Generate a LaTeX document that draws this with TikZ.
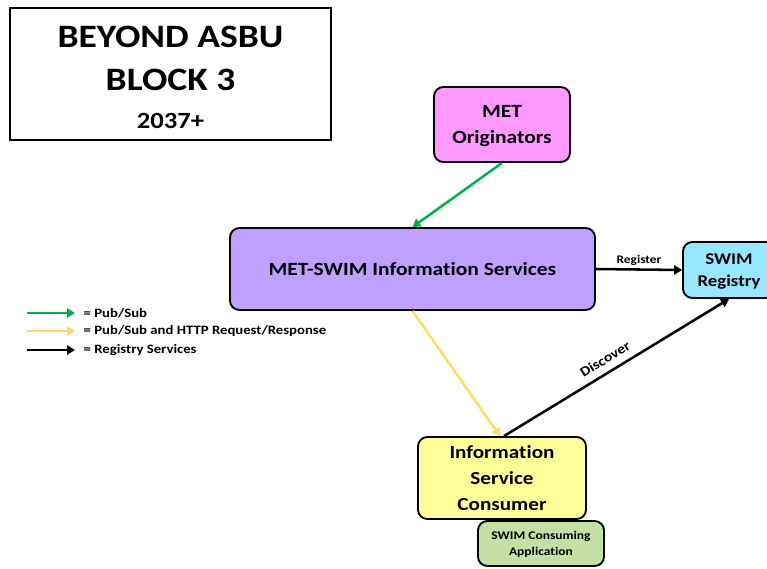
\documentclass[tikz,border=0pt]{standalone}
\usepackage{fontspec}
\setmainfont{Carlito}[Ligatures=CommonOff, FakeStretch=1.15]
\usepackage{xcolor}
\usetikzlibrary{positioning,arrows.meta}
\definecolor{origpink}{HTML}{FF99FF}
\definecolor{svcpurple}{HTML}{BF9FFF}
\definecolor{regblue}{HTML}{99E6FF}
\definecolor{consyellow}{HTML}{FFFF99}
\definecolor{appgreen}{HTML}{C5E0A4}
\definecolor{pubgreen}{HTML}{00B050}
\definecolor{httpyellow}{HTML}{FFD966}

\begin{document}
\begin{tikzpicture}[x=0.75pt, y=-0.75pt,
  font=\bfseries,
  box/.style={draw, line width=1.4pt, rounded corners=7pt, align=center, inner sep=1pt, text depth=0pt},
  flow/.style={line width=1.9pt, -{Triangle[length=6pt,width=7pt]}},
  big/.style={font=\bfseries\fontsize{14}{19}\selectfont},
  small/.style={font=\bfseries\fontsize{8.7}{10}\selectfont},
  key/.style={anchor=west, font=\bfseries\fontsize{9.6}{11}\selectfont}]
\useasboundingbox (0,0) rectangle (767,568);
% title block
\node[draw, line width=1.4pt, minimum width=240.75pt, minimum height=99pt] (title) at (170.5,74) {};
\node[anchor=base, font=\bfseries\fontsize{24.5}{28}\selectfont] (t1) at (170.5,47) {BEYOND ASBU};
\node[anchor=base, font=\bfseries\fontsize{24.5}{28}\selectfont] (t2) at (170.5,90) {BLOCK 3};
\node[anchor=base, font=\bfseries\fontsize{17.4}{20}\selectfont] (t3) at (170.5,128) {2037+};
% services
\node[box, big, fill=origpink, minimum width=102pt, minimum height=56.25pt] (orig) at (502,124.5) {MET\\Originators};
\node[box, big, fill=svcpurple, minimum width=273.75pt, minimum height=61.5pt] (mss) at (412.5,269) {MET-SWIM Information Services};
\node[box, fill=regblue, minimum width=69pt, minimum height=42pt, font=\bfseries\fontsize{12.3}{17}\selectfont] (reg) at (729,270) {SWIM\\Registry};
\node[box, fill=consyellow, minimum width=126pt, minimum height=61.5pt, font=\bfseries\fontsize{13.8}{19.5}\selectfont] (cons) at (502,478) {Information\\Service\\Consumer};
\node[box, fill=appgreen, minimum width=94.5pt, minimum height=33.75pt, font=\bfseries\fontsize{8.8}{12}\selectfont] (app) at (541,543.5) {SWIM Consuming\\Application};
% connectors
\draw[flow, pubgreen] (orig.south) -- (mss.north);
\draw[flow, httpyellow] (mss.south) -- ([xshift=-1.5pt]cons.north);
\draw[flow] (mss.east) -- (reg.west) node[midway, above=-1.5pt, small] (regl) {Register};
\draw[flow] ([xshift=1.5pt]cons.north) -- (reg.south) node[pos=0.48, above=2pt, sloped, font=\bfseries\fontsize{10.3}{11}\selectfont] (disl) {Discover};
% legend
\coordinate (l1a) at (27,313); \coordinate (l1b) at (75,313);
\coordinate (l2a) at (27,331); \coordinate (l2b) at (75,331);
\coordinate (l3a) at (27,350); \coordinate (l3b) at (75,350);
\draw[flow, pubgreen] (l1a) -- (l1b);
\draw[flow, httpyellow] (l2a) -- (l2b);
\draw[flow] (l3a) -- (l3b);
\node[key] (k1) at (79,313) {= Pub/Sub};
\node[key] (k2) at (79,331) {= Pub/Sub and HTTP Request/Response};
\node[key] (k3) at (79,350) {= Registry Services};
\end{tikzpicture}
\end{document}
